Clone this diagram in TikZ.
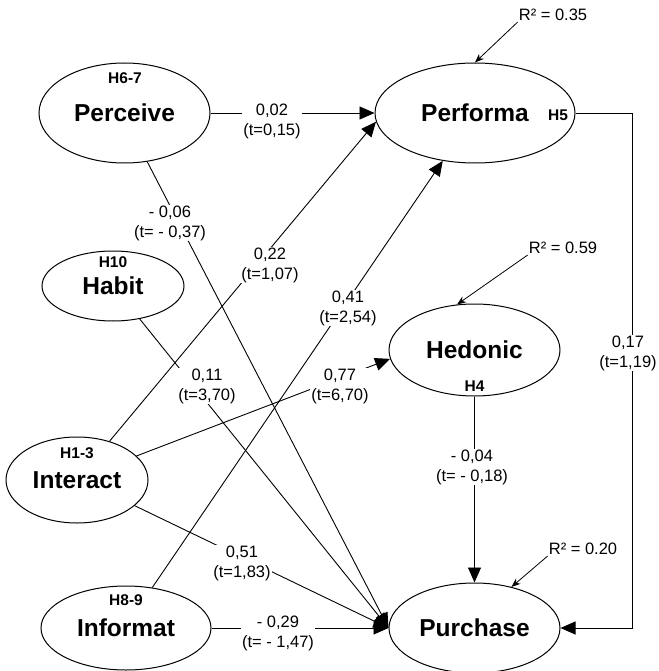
\documentclass[tikz,border=0pt]{standalone}
\usepackage{fontspec}
\setmainfont{Liberation Sans}
\usetikzlibrary{shapes.geometric,arrows.meta}

\tikzset{
  latent/.style={ellipse, draw, line width=1pt, fill=white, inner sep=0pt,
    font=\fontsize{24.5}{28}\selectfont\bfseries},
  hyp/.style={inner sep=0pt, font=\fontsize{15.5}{18}\selectfont\bfseries},
  coef/.style={fill=white, align=center, inner sep=1pt,
    font=\fontsize{16.5}{20}\selectfont},
  rtext/.style={inner sep=1pt, font=\fontsize{16.5}{20}\selectfont},
  link/.style={line width=0.9pt, -{Triangle[length=15pt,width=13pt]}},
  rsq/.style={line width=0.8pt, -{Stealth[length=9pt,width=7pt]}},
}

\begin{document}
\begin{tikzpicture}[x=1pt,y=-1pt]
  \useasboundingbox (0,0) rectangle (658,671);

  % Constructs
  \node[latent, minimum width=171pt, minimum height=100pt] (perceive) at (124.5,113) {Perceive};
  \node[latent, minimum width=200pt, minimum height=100pt] (performa) at (475,113) {Performa};
  \node[latent, minimum width=142pt, minimum height=70pt] (habit) at (113,286) {Habit};
  \node[latent, minimum width=171pt, minimum height=92pt] (hedonic) at (474.5,350) {Hedonic};
  \node[latent, minimum width=142pt, minimum height=86pt] (interact) at (77,480) {Interact};
  \node[latent, minimum width=170pt, minimum height=84pt] (informat) at (126,628) {Informat};
  \node[latent, minimum width=171pt, minimum height=90pt] (purchase) at (474.5,628) {Purchase};

  % Hypothesis tags
  \node[hyp] at (125,78) {H6-7};
  \node[hyp] at (113,262) {H10};
  \node[hyp] at (77,453) {H1-3};
  \node[hyp] at (126,600) {H8-9};
  \node[hyp] at (474.5,386) {H4};
  \node[hyp] at (558,115) {H5};

  % Paths
  \draw[link] (perceive.east) -- (performa.west);
  \draw[link] (perceive.-65) -- (purchase.west);
  \draw[link] (habit.-51) -- (purchase.west);
  \draw[link] (interact.50) -- (performa.185);
  \draw[link] (informat.57) -- (performa.236);
  \draw[link] (interact.22) -- (hedonic.186);
  \draw[link] (interact.-24) -- (purchase.west);
  \draw[link] (informat.east) -- (purchase.west);
  \draw[link] (hedonic.south) -- (purchase.north);
  \coordinate (bend) at (632,113);
  \draw[link] (performa.east) -- (bend) |- (purchase.east);

  % Explained variance
  \node[rtext] (r35) at (553,15) {R² = 0.35};
  \node[rtext] (r59) at (563,248) {R² = 0.59};
  \node[rtext] (r20) at (583,549) {R² = 0.20};
  \draw[rsq] (r35.south west) -- (performa.north);
  \draw[rsq] (r59.south west) -- (hedonic.111);
  \draw[rsq] (r20.south west) -- (purchase.48);

  % Coefficients
  \node[coef] at (272,121) {0,02\\(t=0,15)};
  \node[coef] at (170,223) {- 0,06\\(t= - 0,37)};
  \node[coef] at (270,265) {0,22\\(t=1,07)};
  \node[coef] at (207,386) {0,11\\(t=3,70)};
  \node[coef] at (348,308) {0,41\\(t=2,54)};
  \node[coef] at (340,386) {0,77\\(t=6,70)};
  \node[coef] at (242,563) {0,51\\(t=1,83)};
  \node[coef] at (278,633) {- 0,29\\(t= - 1,47)};
  \node[coef] at (472,467) {- 0,04\\(t= - 0,18)};
  \node[coef] at (628,353) {0,17\\(t=1,19)};
\end{tikzpicture}
\end{document}
